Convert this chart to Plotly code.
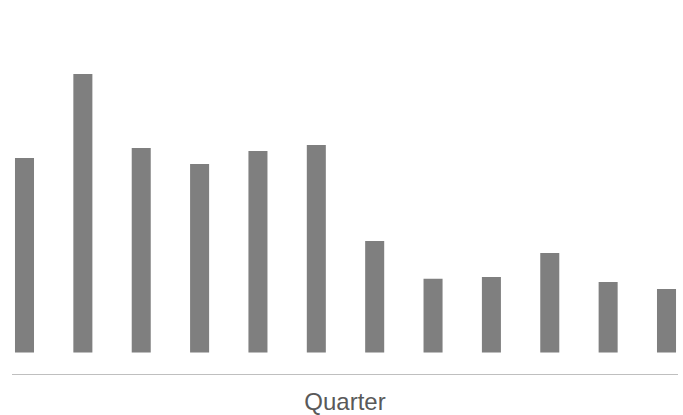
import plotly.graph_objects as go

quarters = ["Q1", "Q2", "Q3", "Q4", "Q5", "Q6", "Q7", "Q8", "Q9", "Q10", "Q11", "Q12"]
values = [69.8, 100.0, 73.4, 67.7, 72.4, 74.5, 40.0, 26.5, 27.1, 35.7, 25.3, 22.8]
x_title = "Quarter"

fig = go.Figure(
    go.Bar(
        x=list(range(len(quarters))),
        y=values,
        width=0.326,
        marker=dict(color="#7f7f7f", line=dict(width=0)),
        hovertext=quarters,
    )
)

fig.update_layout(
    width=683,
    height=415,
    margin=dict(l=12, r=5, t=20, b=41),
    paper_bgcolor="white",
    plot_bgcolor="white",
    showlegend=False,
    font=dict(family="Liberation Sans, Arial, sans-serif"),
    xaxis=dict(
        range=[-0.2142, 11.197],
        showticklabels=False,
        ticks="",
        showgrid=False,
        zeroline=False,
        showline=True,
        linecolor="#bfbfbf",
        linewidth=1,
        automargin=False,
        title=dict(text=x_title, font=dict(size=24, color="#595959"), standoff=21),
    ),
    yaxis=dict(
        range=[-7.72, 119.4],
        showticklabels=False,
        ticks="",
        showgrid=False,
        zeroline=False,
        showline=False,
    ),
)

fig.write_html("out.html")
